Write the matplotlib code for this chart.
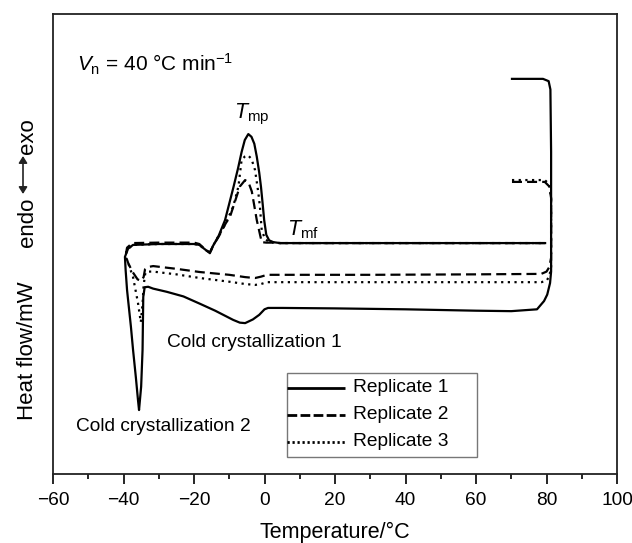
import numpy as np
import matplotlib.pyplot as plt
from matplotlib.patches import Rectangle, FancyArrowPatch

plt.rcParams['font.family'] = ['Liberation Sans', 'DejaVu Sans']
plt.rcParams['mathtext.fontset'] = 'custom'
plt.rcParams['mathtext.rm'] = 'Liberation Sans'
plt.rcParams['mathtext.it'] = 'Liberation Sans:italic'

# temperature (°C) / heat flow (arbitrary)
# each replicate: top segment at 70-80 °C -> down at 81 °C -> cooling branch to -40 -> heating branch to 80
t1 = [70.2, 79.0, 80.6, 81.1, 81.3, 81.3, 81.3, 81.0, 80.2, 79.3, 77.3, 70, 60, 40, 20, 5, 1.0, 0.0,
      -1.5, -3.3, -5.5, -7.0, -8.9, -14, -18.3, -23, -27.7, -31.6, -33.0, -34.0, -34.4, -34.6, -35.0,
      -35.6, -35.9, -36.5, -37.3, -37.9, -38.7, -39.0, -39.4, -39.6, -38.7, -37.3, -30, -20, -18.5,
      -16.5, -15.5, -14.6, -13.0, -11.2, -8.8, -7.5, -6.5, -5.6, -4.6, -3.7, -2.9, -2.2, -1.5, -1.0,
      -0.5, -0.1, 0.5, 1.3, 2.5, 4.4, 20, 40, 60, 79.6]
y1 = [85.9, 85.9, 85.4, 83.6, 70, 55, 44, 41.5, 39.0, 37.6, 35.8, 35.4, 35.5, 35.8, 36.0, 36.1, 36.1, 35.8,
      34.6, 33.6, 32.8, 32.9, 33.5, 35.5, 37.0, 38.6, 39.6, 40.3, 40.7, 40.6, 38.5, 27, 19,
      13.9, 16.1, 21, 27, 32, 37.8, 40, 44.3, 47.2, 49.0, 49.8, 50.0, 50.0, 49.8,
      48.6, 48.0, 49.6, 51.8, 55.2, 62.4, 66.5, 70.0, 72.6, 73.9, 73.3, 71.8, 69.0, 65.5, 62.4,
      58.5, 55.2, 52.0, 50.8, 50.4, 50.2, 50.2, 50.2, 50.2, 50.2]

t2 = [70.2, 79.5, 80.8, 81.3, 81.3, 80.8, 80.0, 78.5, 60, 30, 5, 0.7, -1.0, -2.7, -5.5, -10, -18.3, -25,
      -31.6, -33.0, -33.9, -34.3, -35.0, -36.0, -37.5, -38.7, -39.4, -39.0, -37.5, -30, -20, -18.5,
      -16.5, -15.5, -14.6, -13.0, -11.0, -9.8, -7.0, -5.5, -4.5, -3.6, -2.2, -0.8, 0.5, 2.0,
      4.4, 20, 40, 60, 79.6]
y2 = [63.5, 63.5, 62.5, 60.0, 47.0, 45.0, 44.0, 43.5, 43.4, 43.3, 43.3, 43.3, 42.9, 42.6, 42.8, 43.3, 43.9, 44.6,
      45.2, 45.0, 44.5, 42.8, 42.0, 42.3, 44.0, 45.9, 47.5, 49.2, 50.2, 50.3, 50.3, 50.0,
      48.6, 48.2, 49.6, 51.6, 54.5, 55.9, 62.5, 63.9, 63.3, 61.4, 55.2, 50.4, 50.3, 50.3,
      50.2, 50.2, 50.2, 50.2, 50.2]

t3 = [70.2, 79.5, 80.8, 81.3, 81.3, 80.8, 80.0, 78.5, 60, 30, 5, 0.7, -1.0, -2.7, -5.5, -10, -18.3, -25,
      -31.6, -33.0, -33.8, -34.3, -34.6, -35.1, -35.9, -37.3, -38.7, -39.3, -39.2, -37.5, -30, -20,
      -18.5, -16.5, -15.5, -14.6, -13.0, -11.0, -8.9, -7.4, -6.5, -5.6, -4.7, -3.7, -2.7, -1.8, -1.3,
      -0.8, 0.2, 1.5, 4.4, 20, 40, 60, 79.6]
y3 = [63.9, 63.9, 63.0, 60.0, 45.0, 43.0, 42.0, 41.7, 41.7, 41.7, 41.7, 41.7, 41.3, 41.1, 41.3, 41.8, 42.6, 43.4,
      44.0, 44.0, 43.8, 41.0, 37.0, 33.0, 37.2, 42.8, 45.9, 47.0, 48.5, 49.8, 50.0, 50.0,
      49.8, 48.6, 48.1, 49.6, 51.8, 54.5, 58.1, 62.5, 68.3, 69.0, 69.3, 68.5, 66.1, 61.4, 58.1,
      53.0, 51.0, 50.4, 50.2, 50.2, 50.2, 50.2, 50.2]

labels = ['Replicate 1', 'Replicate 2', 'Replicate 3']
xticks = [-60, -40, -20, 0, 20, 40, 60, 80, 100]

styles = ['-', (0, (4.5, 2.3)), (0, (1, 2.0))]

fig = plt.figure(figsize=(6.32, 5.43), dpi=100)
ax = fig.add_axes([0.0839, 0.1271, 0.8924, 0.8471])

for t, y, ls in zip([t1, t2, t3], [y1, y2, y3], styles):
    ax.plot(t, y, color='black', lw=1.6, ls=ls)

ax.set_xlim(-60, 100)
ax.set_ylim(0, 100)
ax.set_xticks(xticks)
ax.set_xticklabels([str(v).replace('-', '\u2212') for v in xticks])
ax.set_xticks(np.arange(-50, 100, 20), minor=True)
ax.set_yticks([])
ax.tick_params(axis='x', which='major', direction='out', length=7, width=1.2, labelsize=13.8, pad=6)
ax.tick_params(axis='x', which='minor', direction='out', length=3.5, width=1.2)
for s in ax.spines.values():
    s.set_linewidth(1.3)
    s.set_color('#222222')

ax.set_xlabel('Temperature/°C', fontsize=15.5, labelpad=9)

ax.text(-53.2, 89.0, r'$V_{\rm n}$ = 40 °C min$^{-1}$', fontsize=15, ha='left', va='center')
ax.text(-3.5, 78.2, r'$T_{\rm mp}$', fontsize=15.5, ha='center', va='center')
ax.text(6.4, 53.0, r'$T_{\rm mf}$', fontsize=15.5, ha='left', va='center')
ax.text(-27.7, 28.5, 'Cold crystallization 1', fontsize=13.8, ha='left', va='center')
ax.text(-53.5, 10.4, 'Cold crystallization 2', fontsize=13.8, ha='left', va='center')

# legend box, drawn by hand so the handles touch the frame like the original
ax.add_patch(Rectangle((0.4149, 0.0370), 0.3369, 0.1826, transform=ax.transAxes,
                       fill=True, facecolor='white', edgecolor='#777777', lw=1.0, zorder=5))
leg_styles = ['-', (0, (3.5, 1.2)), (0, (0.8, 1.0))]
for yy, ls, lab in zip([0.1870, 0.1283, 0.0696], leg_styles, labels):
    ax.plot([0.4149, 0.5177], [yy, yy], transform=ax.transAxes, color='black', lw=2.0, ls=ls,
            zorder=6, solid_capstyle='butt')
    ax.text(0.5319, yy, lab, transform=ax.transAxes, fontsize=13.8, ha='left', va='center', zorder=6)

# y axis labels
for txt, ypx in [('Heat flow/mW', 351), ('exo', 136.5), ('endo', 222)]:
    fig.text(33 / 632, 1 - ypx / 543, txt, rotation=90, rotation_mode='anchor', fontsize=16,
             ha='center', va='baseline')
fig.patches.append(FancyArrowPatch(
    (23 / 632, 1 - 194 / 543), (23 / 632, 1 - 156 / 543), transform=fig.transFigure,
    arrowstyle='<|-|>,head_length=4,head_width=2.5', color='#222222', lw=1.2,
    shrinkA=0, shrinkB=0))

fig.savefig('out.png', dpi=100)
